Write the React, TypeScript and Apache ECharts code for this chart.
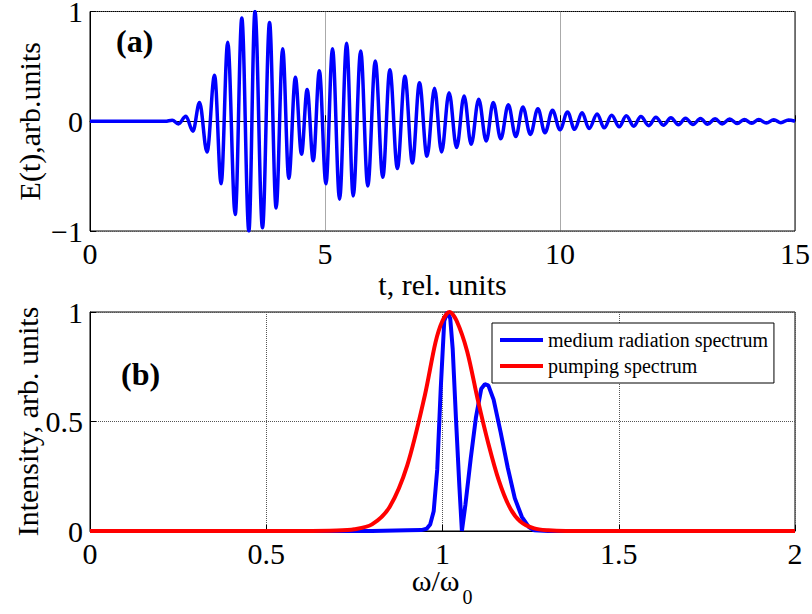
import React, { useEffect, useRef } from "react";
import * as echarts from "echarts";

// ---- Panel (a): extrema of E(t) ----
const waveT = [
  0, 1.6, 1.75, 1.88, 2.04, 2.19, 2.33, 2.49, 2.65, 2.79, 2.93, 3.09, 3.23, 3.38, 3.51, 3.67,
  3.82, 3.96, 4.1, 4.23, 4.37, 4.5, 4.62, 4.75, 4.88, 5.02, 5.16, 5.31, 5.46, 5.6, 5.76, 5.91,
  6.07, 6.23, 6.38, 6.54, 6.7, 6.86, 7.01, 7.17, 7.33, 7.48, 7.64, 7.8, 7.96, 8.11, 8.27, 8.43,
  8.58, 8.74, 8.9, 9.06, 9.21, 9.37, 9.53, 9.68, 9.84, 10.0, 10.16, 10.31, 10.47, 10.62, 10.79,
  10.94, 11.1, 11.26, 11.41, 11.57, 11.72, 11.89, 12.04, 12.2, 12.36, 12.52, 12.67, 12.83, 12.99,
  13.14, 13.3, 13.45, 13.61, 13.77, 13.92, 14.08, 14.23, 14.39, 14.55, 14.7, 14.86, 15.0,
];
const waveE = [
  0, 0, 0.01, -0.025, 0.045, -0.09, 0.17, -0.28, 0.42, -0.57, 0.72, -0.85, 0.94, -1.0, 1.0, -0.97,
  0.9, -0.79, 0.66, -0.52, 0.4, -0.3, 0.29, -0.36, 0.46, -0.57, 0.66, -0.71, 0.71, -0.68, 0.64, -0.59,
  0.55, -0.51, 0.47, -0.43, 0.41, -0.38, 0.35, -0.32, 0.3, -0.28, 0.26, -0.24, 0.23, -0.21, 0.2, -0.18,
  0.17, -0.16, 0.15, -0.14, 0.13, -0.12, 0.115, -0.105, 0.1, -0.078, 0.085, -0.073, 0.077, -0.067, 0.067,
  -0.06, 0.055, -0.05, 0.05, -0.045, 0.043, -0.04, 0.037, -0.036, 0.031, -0.033, 0.027, -0.03, 0.025,
  -0.027, 0.022, -0.024, 0.02, -0.021, 0.017, -0.018, 0.015, -0.016, 0.014, -0.013, 0.012, 0.0,
];

// ---- Panel (b): spectra ----
const mediumW = [
  0, 0.8, 0.9, 0.94, 0.955, 0.965, 0.975, 0.985, 0.995, 1.005, 1.014, 1.022, 1.029, 1.038, 1.048,
  1.055, 1.065, 1.08, 1.095, 1.11, 1.12, 1.13, 1.145, 1.165, 1.185, 1.205, 1.225, 1.245, 1.26, 1.3, 2,
];
const mediumI = [
  0, 0, 0.003, 0.004, 0.01, 0.03, 0.09, 0.28, 0.65, 0.96, 1.0, 0.97, 0.83, 0.52, 0.2,
  0.0, 0.12, 0.33, 0.52, 0.65, 0.67, 0.665, 0.6, 0.45, 0.29, 0.15, 0.065, 0.018, 0.003, 0, 0,
];
const pumpW = [
  0, 0.6, 0.7, 0.75, 0.8, 0.85, 0.9, 0.95, 0.98, 1.0, 1.02, 1.04, 1.07, 1.1, 1.13, 1.16, 1.19,
  1.22, 1.26, 1.3, 1.35, 2,
];
const pumpI = [
  0, 0, 0.002, 0.008, 0.03, 0.11, 0.3, 0.62, 0.86, 0.96, 1.0, 0.96, 0.82, 0.6, 0.4, 0.23, 0.11,
  0.045, 0.012, 0.003, 0, 0,
];

// ---- Tick labels ----
const topXTickVals = [0, 5, 10, 15];
const topYTickVals = [-1, 0, 1];
const botXTickVals = [0, 0.5, 1, 1.5, 2];
const botYTickVals = [0, 0.5, 1];

const seriesNames = ["medium radiation spectrum", "pumping spectrum"];
const axisTitles = { topX: "t, rel. units", topY: "E(t),arb.units", botX: "\u03c9/\u03c9", botXSub: "0", botY: "Intensity, arb. units" };

const FONT = "Liberation Serif";

export default function App() {
  const ref = useRef<HTMLDivElement>(null);
  useEffect(() => {
    if (!ref.current) return;
    const chart = echarts.init(ref.current, null, { renderer: "svg" });
    const axisCommon = {
      axisLine: { show: true, lineStyle: { color: "#000", width: 1 } },
      axisTick: { show: true, inside: true, length: 6, lineStyle: { color: "#000" } },
      splitLine: { show: true, lineStyle: { type: "dotted", color: "#555", width: 1 } },
      axisLabel: { show: false },
    };
    const range = (vals: number[]) => ({
      min: vals[0],
      max: vals[vals.length - 1],
      interval: vals[1] - vals[0],
    });
    const toPairs = (xs: number[], ys: number[]) => xs.map((x, i) => [x, ys[i]]);
    chart.setOption({
      animation: false,
      textStyle: { fontFamily: FONT, color: "#000" },
      grid: [
        { left: 90, right: 17, top: 11.5, height: 219.5, show: true, borderColor: "#000", borderWidth: 1 },
        { left: 90, right: 17, top: 312, height: 219, show: true, borderColor: "#000", borderWidth: 1 },
      ],
      xAxis: [
        { ...axisCommon, type: "value", gridIndex: 0, ...range(topXTickVals) },
        { ...axisCommon, type: "value", gridIndex: 1, ...range(botXTickVals) },
      ],
      yAxis: [
        { ...axisCommon, type: "value", gridIndex: 0, ...range(topYTickVals) },
        { ...axisCommon, type: "value", gridIndex: 1, ...range(botYTickVals) },
      ],
      legend: {
        data: seriesNames.map((n) => ({ name: n, icon: "rect" })),
        orient: "vertical",
        left: 492,
        top: 323,
        padding: [7, 6, 7, 8],
        itemGap: 6,
        itemWidth: 43,
        itemHeight: 4,
        borderColor: "#000",
        borderWidth: 1,
        backgroundColor: "#fff",
        textStyle: { fontFamily: FONT, fontSize: 20, color: "#000" },
      },
      series: [
        {
          type: "line",
          xAxisIndex: 0,
          yAxisIndex: 0,
          data: toPairs(waveT, waveE),
          smooth: 0.36,
          smoothMonotone: "x",
          symbol: "none",
          lineStyle: { color: "#0000ff", width: 3.5 },
          z: 3,
        },
        {
          name: seriesNames[0],
          type: "line",
          xAxisIndex: 1,
          yAxisIndex: 1,
          data: toPairs(mediumW, mediumI),
          symbol: "none",
          color: "#0000ff",
          lineStyle: { color: "#0000ff", width: 4 },
          z: 3,
        },
        {
          name: seriesNames[1],
          type: "line",
          xAxisIndex: 1,
          yAxisIndex: 1,
          data: toPairs(pumpW, pumpI),
          smooth: 0.3,
          symbol: "none",
          color: "#ff0000",
          lineStyle: { color: "#ff0000", width: 4 },
          z: 4,
        },
      ],
    });

    // Axis texts placed through the axes' own scales (convertToPixel)
    const fmt = (v: number) => String(v).replace("-", "\u2212");
    const txt = (
      s: string, x: number, y: number, align: string, vAlign: string,
      size = 30, extra: Record<string, unknown> = {}, weight = "normal", lineHeight?: number
    ) => ({
      type: "text",
      x,
      y,
      silent: true,
      z: 10,
      ...extra,
      style: {
        text: s, fontFamily: FONT, fontSize: size, fontWeight: weight, fill: "#000",
        align, verticalAlign: vAlign, ...(lineHeight ? { lineHeight } : {}),
      },
    });
    const px = (i: number, v: [number, number]) =>
      chart.convertToPixel({ xAxisIndex: i, yAxisIndex: i }, v) as number[];
    const panels = [
      { i: 0, xs: topXTickVals, ys: topYTickVals, xName: axisTitles.topX, yName: axisTitles.topY, xGap: 38, yGap: 46 },
      { i: 1, xs: botXTickVals, ys: botYTickVals, xName: "", yName: axisTitles.botY, xGap: 34, yGap: 48 },
    ];
    const graphics: any[] = [];
    panels.forEach((p) => {
      const xMin = p.xs[0];
      const xMax = p.xs[p.xs.length - 1];
      const yMin = p.ys[0];
      const yMax = p.ys[p.ys.length - 1];
      p.xs.forEach((v) => {
        const [x, y] = px(p.i, [v, yMin]);
        graphics.push(txt(fmt(v), x, y + 22, "center", "middle", 30, {}, "normal", 22));
      });
      p.ys.forEach((v) => {
        const [x, y] = px(p.i, [xMin, v]);
        graphics.push(txt(fmt(v), x - 7, y, "right", "middle", 30, {}, "normal", 22));
      });
      const [cx, by] = px(p.i, [(xMin + xMax) / 2, yMin]);
      if (p.xName) graphics.push(txt(p.xName, cx, by + p.xGap, "center", "top"));
      else {
        graphics.push(txt(axisTitles.botX, cx + 17, by + p.xGap, "right", "top", 30, {}, "normal", 30));
        graphics.push(txt(axisTitles.botXSub, cx + 20, by + p.xGap + 22, "left", "top", 20, {}, "normal", 20));
      }
      const [lx, cy] = px(p.i, [xMin, (yMin + yMax) / 2]);
      graphics.push(txt(p.yName, lx - p.yGap, cy, "center", "bottom", 30, { rotation: Math.PI / 2 }));
    });
    graphics.push(txt("(a)", 116, 25, "left", "top", 32, {}, "bold"));
    graphics.push(txt("(b)", 121, 358, "left", "top", 32, {}, "bold"));
    chart.setOption({ graphic: graphics });

    return () => chart.dispose();
  }, []);
  return (
    <div
      ref={ref}
      style={{ position: "fixed", left: 0, top: 0, width: 812, height: 614, background: "#fff" }}
    />
  );
}
